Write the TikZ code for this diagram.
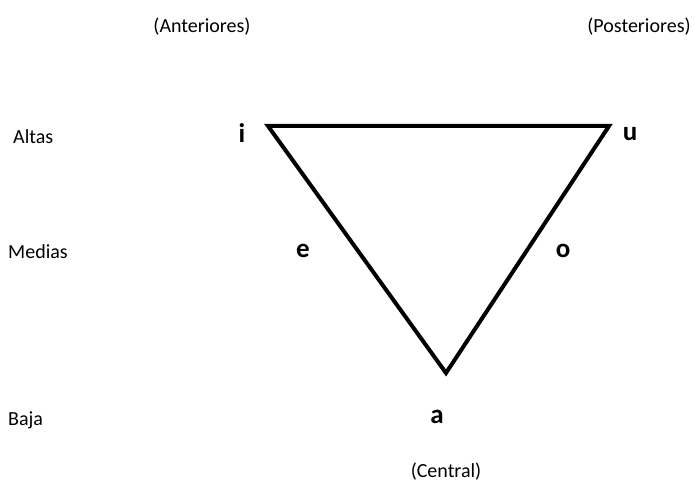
\documentclass[tikz,border=0pt]{standalone}
\usepackage{fontspec}
\setmainfont{Carlito}
\usepackage{xcolor}
\usetikzlibrary{positioning}
\tikzset{
  edge/.style ={line width=4pt, draw=black, line join=miter},
  vowel/.style={font=\fontsize{27}{30}\selectfont\bfseries, inner sep=0pt},
  lbl/.style  ={font=\fontsize{20}{23}\selectfont, inner sep=0pt},
}
\begin{document}
\begin{tikzpicture}[x=1pt,y=1pt]
        \useasboundingbox (0,0) rectangle (695,482);
        % vertices of the triangle
        \coordinate (vi) at (268,356);
        \coordinate (vu) at (609,356);
        \coordinate (va) at (446,109);
        \draw[edge] (vi) -- (vu) -- (va) -- cycle;
        % vowels
        \node[vowel] (i) at (242,349){i};
        \node[vowel] (u) at (630,348){u};
        \node[vowel] (e) at (303,231){e};
        \node[vowel] (o) at (563,231){o};
        \node[vowel] (a) at (437,65){a};
        % row and column labels
        \node[lbl,anchor=west] (altas) at (13,345){Altas};
        \node[lbl,anchor=west] (medias) at (8,230){Medias};
        \node[lbl,anchor=west] (baja) at (8,62){Baja};
        \node[lbl] (ant) at (202,455){(Anteriores)};
        \node[lbl] (post) at (639,455){(Posteriores)};
        \node[lbl] (cen) at (446,10){(Central)};
      \end{tikzpicture}
\end{document}
